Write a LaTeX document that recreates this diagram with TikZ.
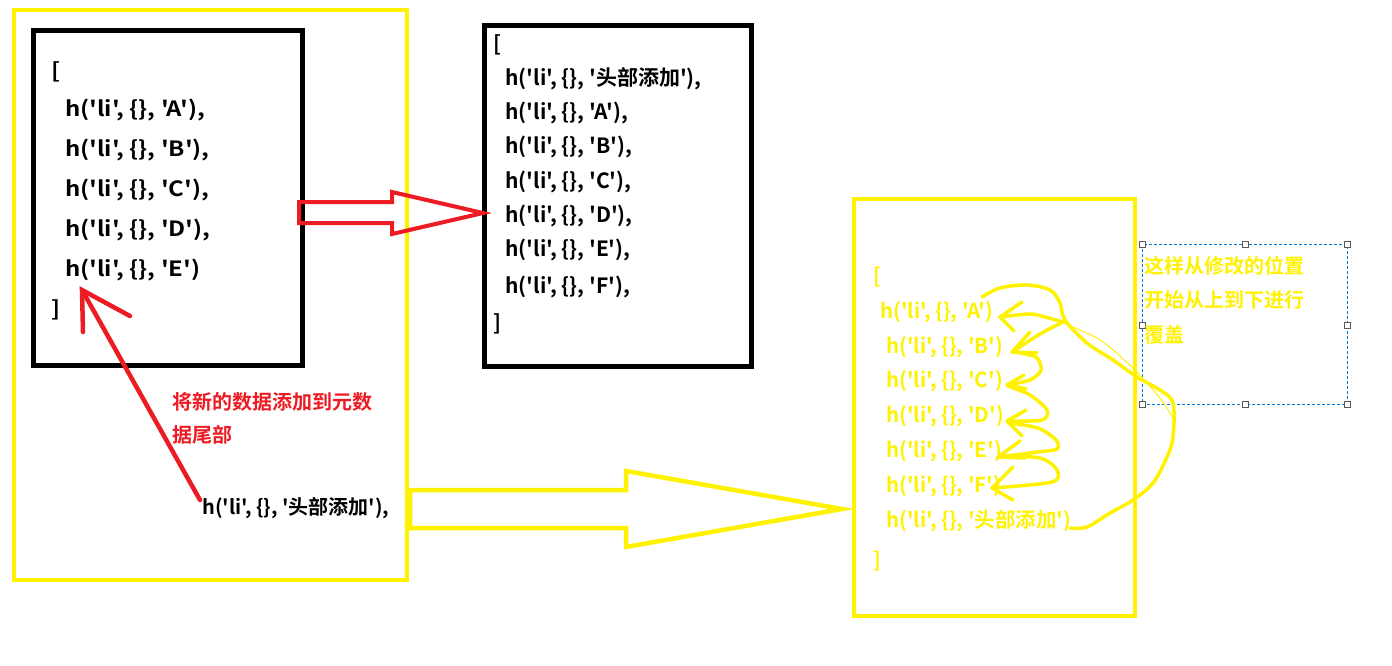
\documentclass[tikz,border=0pt]{standalone}
\usepackage{graphicx}
\usepackage{fontspec}
\newfontfamily\yh{Noto Sans CJK SC}[BoldFont={Noto Sans CJK SC Bold}]
\usetikzlibrary{calc}
\definecolor{yel}{RGB}{255,242,0}
\definecolor{rd}{RGB}{237,28,36}
\definecolor{bl}{RGB}{0,120,215}
\newcommand{\wide}[1]{\scalebox{1.14}[1]{#1}}
\begin{document}
\begin{tikzpicture}[x=1pt,y=-1pt,
  code/.style={anchor=west,inner sep=0pt,font=\yh\bfseries\fontsize{21}{25}\selectfont},
  ycode/.style={code,text=yel,font=\yh\bfseries\fontsize{20.5}{24}\selectfont},
  rtext/.style={anchor=west,inner sep=0pt,text=rd,font=\yh\bfseries\fontsize{20}{24}\selectfont},
  ytext/.style={anchor=west,inner sep=0pt,text=yel,font=\yh\bfseries\fontsize{20}{24}\selectfont},
  frame/.style={draw=black,line width=5pt},
  yframe/.style={draw=yel,line width=4pt},
  hand/.style={draw=yel,line width=3.5pt,line cap=round,line join=round},
  handle/.style={draw=black!65,fill=white,line width=0.8pt,minimum size=6pt,inner sep=0pt,rectangle}
]
\useasboundingbox (0,0) rectangle (1392,665);
\fill[white] (0,0) rectangle (1392,665);

% frames
\draw[yframe] (14,10) rectangle (407,580);
\draw[frame] (33,30.5) rectangle (302.5,365);
\draw[frame] (484,25.5) rectangle (751,366);
\draw[yframe] (854,199) rectangle (1135,616);

% box 1 text
\node[code] (l0) at (51,72) {\wide{[}};
\node[code] (l1) at (65,110) {\wide{h('li', \{\}, 'A'),}};
\node[code] (l2) at (65,150) {\wide{h('li', \{\}, 'B'),}};
\node[code] (l3) at (65,190) {\wide{h('li', \{\}, 'C'),}};
\node[code] (l4) at (65,230) {\wide{h('li', \{\}, 'D'),}};
\node[code] (l5) at (65,270) {\wide{h('li', \{\}, 'E')}};
\node[code] (l6) at (51,310) {\wide{]}};

% box 2 text
\node[code] (m0) at (493,45) {[};
\node[code] (m1) at (505,79) {h('li', \{\}, '头部添加'),};
\node[code] (m2) at (505,113) {h('li', \{\}, 'A'),};
\node[code] (m3) at (505,147) {h('li', \{\}, 'B'),};
\node[code] (m4) at (505,182) {h('li', \{\}, 'C'),};
\node[code] (m5) at (505,216) {h('li', \{\}, 'D'),};
\node[code] (m6) at (505,250) {h('li', \{\}, 'E'),};
\node[code] (m7) at (505,287) {h('li', \{\}, 'F'),};
\node[code] (m8) at (493,324) {]};

% yellow box text
\node[ycode] (y0) at (873,277) {[};
\node[ycode] (y1) at (880,312) {h('li', \{\}, 'A')};
\node[ycode] (y2) at (886,347) {h('li', \{\}, 'B')};
\node[ycode] (y3) at (886,381) {h('li', \{\}, 'C')};
\node[ycode] (y4) at (886,416) {h('li', \{\}, 'D')};
\node[ycode] (y5) at (886,451) {h('li', \{\}, 'E')};
\node[ycode] (y6) at (886,486) {h('li', \{\}, 'F')};
\node[ycode] (y7) at (886,521) {h('li', \{\}, '头部添加')};
\node[ycode] (y8) at (873,561) {]};

% red note and new item
\node[rtext] (n1) at (172,402) {将新的数据添加到元数};
\node[rtext] (n2) at (172,435) {据尾部};
\node[code,font=\yh\bfseries\fontsize{20}{24}\selectfont] (new) at (202,508) {h('li', \{\}, '头部添加'),};

% hollow red arrow
\draw[rd,line width=4pt,line join=miter] (299,202) -- (392,202) -- (392,192) -- (483,213) -- (392,234) -- (392,223) -- (299,223) -- cycle;
% hollow yellow arrow
\draw[yel,line width=4.5pt,line join=miter] (410,490) -- (626,490) -- (626,471) -- (842,509) -- (626,547) -- (626,528) -- (410,528) -- cycle;

% red hand arrow
\coordinate (rt) at (82,290);
\draw[rd,line width=4.5pt,line cap=round] (200,500) -- (rt);
\draw[rd,line width=4.5pt,line cap=round] (130,316) -- (rt) -- (83,332);

% dashed selection box
\draw[bl,line width=1pt,dashed,dash pattern=on 3pt off 2pt] (1142,244) rectangle (1347,404);
\foreach \p in {(1142,244),(1245,244),(1347,244),(1142,325),(1347,325),(1142,404),(1245,404),(1347,404)}
  \node[handle] at \p {};
\node[ytext] (t1) at (1144,266) {这样从修改的位置};
\node[ytext] (t2) at (1144,300) {开始从上到下进行};
\node[ytext] (t3) at (1144,335) {覆盖};

% freehand yellow arrows
\draw[hand] plot[smooth,tension=0.55] coordinates {(1070,528) (1087,527) (1110,513) (1133,500) (1153,483) (1167,457) (1173,437) (1173,403) (1160,390) (1137,377) (1113,360) (1087,343) (1065,320) (1060,303) (1050,290) (1027,285) (1000,288) (982,297)};
\draw[yel,line width=1pt] plot[smooth] coordinates {(1063,323) (1100,340) (1133,368) (1160,398) (1173,418)};
% A
\draw[hand] plot[smooth] coordinates {(1063,322) (1045,317) (1030,314) (1000,317)};
\draw[hand] (1022,302) -- (1000,317) -- (1014,331);
% B
\draw[hand] plot[smooth] coordinates {(1063,322) (1040,334) (1012,352)};
\draw[hand] (1030,332) -- (1012,352) -- (1037,353);
% C
\draw[hand] plot[smooth] coordinates {(1014,352) (1036,357) (1041,370) (1030,380) (1007,385)};
\draw[hand] (1024,375) -- (1007,385) -- (1026,389);
% D
\draw[hand] plot[smooth] coordinates {(1008,386) (1030,395) (1047,410) (1042,420) (1007,421)};
\draw[hand] (1026,410) -- (1007,421) -- (1022,436);
% E
\draw[hand] plot[smooth] coordinates {(1008,423) (1038,428) (1056,440) (1057,449) (1038,452) (998,457)};
\draw[hand] (1020,441) -- (998,457) -- (1025,458);
% F
\draw[hand] plot[smooth] coordinates {(1000,456) (1040,458) (1057,470) (1052,482) (992,488)};
\draw[hand] (1013,467) -- (992,488) -- (1013,500);
\end{tikzpicture}
\end{document}
